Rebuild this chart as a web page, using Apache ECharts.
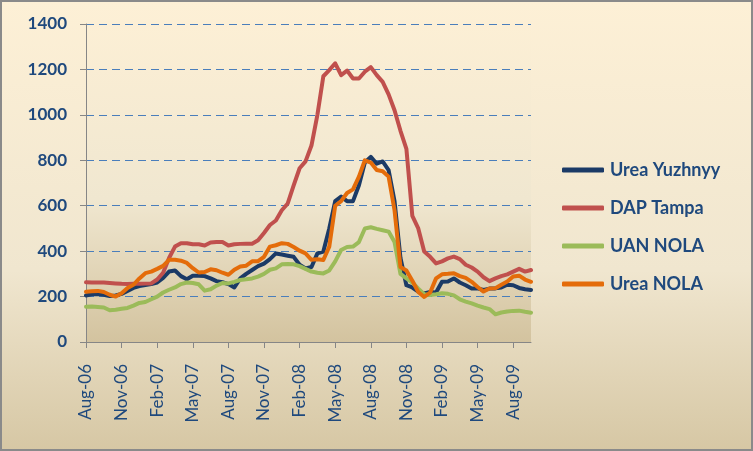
<!DOCTYPE html>
<html>
<head>
<meta charset="utf-8">
<script src="https://cdn.jsdelivr.net/npm/echarts@6/dist/echarts.min.js"></script>
<style>
  html, body { margin: 0; padding: 0; }
  #wrap { position: relative; width: 753px; height: 451px; }
  #chart { position: absolute; left: 0; top: 0; width: 753px; height: 451px;
    background: linear-gradient(to bottom, #FDF0D6 0%, #F0E6CF 60%, #D6C7A4 100%); }
  #frame { position: absolute; left: 0; top: 0; width: 753px; height: 451px; box-sizing: border-box;
    border: 2px solid #8A8A8A; pointer-events: none; }
</style>
</head>
<body>
<div id="wrap"><div id="chart"></div><div id="frame"></div></div>
<script>
// Month labels (each month split into two half-month periods)
const monthLabels = ['Aug-06','Sep-06','Oct-06','Nov-06','Dec-06','Jan-07','Feb-07','Mar-07','Apr-07','May-07','Jun-07','Jul-07',
  'Aug-07','Sep-07','Oct-07','Nov-07','Dec-07','Jan-08','Feb-08','Mar-08','Apr-08','May-08','Jun-08','Jul-08',
  'Aug-08','Sep-08','Oct-08','Nov-08','Dec-08','Jan-09','Feb-09','Mar-09','Apr-09','May-09','Jun-09','Jul-09',
  'Aug-09','Sep-09'];
const periods = [];
monthLabels.forEach(m => { periods.push(m + '|a'); periods.push(m + '|b'); });

const ureaYuzhnyy = [205,210,211,208,202,205,212,225,238,246,251,255,262,282,310,315,290,276,292,292,
  290,280,268,263,255,240,280,300,317,334,345,365,390,385,380,375,340,324,330,390,
  398,500,620,640,620,620,690,790,815,785,795,757,620,370,250,240,222,214,220,218,
  265,266,280,262,250,236,236,229,235,236,240,252,250,238,232,229];
const dapTampa = [263,262,262,262,260,258,256,255,256,256,257,258,275,305,370,420,435,435,430,430,
  425,438,440,440,425,430,432,433,433,448,480,515,535,580,610,690,765,795,865,1000,
  1170,1197,1227,1175,1195,1160,1160,1190,1210,1175,1145,1090,1020,930,850,555,500,398,375,346,
  355,368,376,365,340,328,310,285,268,280,290,298,310,322,310,317];
const uanNola = [155,156,154,152,140,142,146,150,160,172,176,188,200,218,230,240,255,262,260,254,
  226,232,248,260,258,265,273,276,280,288,300,318,324,342,343,342,334,322,310,305,
  302,315,355,405,418,420,440,500,505,498,492,486,440,300,280,262,235,210,207,210,
  215,212,205,188,178,170,160,152,145,122,130,134,137,138,133,129];
const ureaNola = [221,223,225,220,208,200,215,238,252,280,303,310,322,335,362,362,358,348,325,306,
  308,320,316,305,296,318,332,336,355,356,375,420,426,435,432,418,402,390,362,364,
  361,420,600,620,656,672,728,800,790,757,752,728,580,330,315,270,220,198,218,280,
  298,300,303,290,282,265,242,222,236,237,252,266,288,292,275,265];
const yTicks = { min: 0, max: 1400, interval: 200 };

const seriesDefs = [
  { name: 'Urea Yuzhnyy', data: ureaYuzhnyy, color: '#1B3A66' },
  { name: 'DAP Tampa', data: dapTampa, color: '#C0504D' },
  { name: 'UAN NOLA', data: uanNola, color: '#9BBB59' },
  { name: 'Urea NOLA', data: ureaNola, color: '#E46C0A' }
];

const chart = echarts.init(document.getElementById('chart'), null, { renderer: 'canvas' });
const every3 = (idx) => idx % 6 === 0;
chart.setOption({
  animation: false,
  backgroundColor: 'transparent',
  grid: {
    left: 86, top: 24, right: 222, bottom: 109,
    show: true, borderWidth: 0,
    backgroundColor: new echarts.graphic.LinearGradient(0, 0, 0, 1, [
      { offset: 0, color: '#FCEFD5' },
      { offset: 0.55, color: '#F0E7D0' },
      { offset: 1, color: '#D3C39F' }
    ])
  },
  legend: {
    orient: 'vertical',
    left: 562, top: 161, padding: 0,
    itemWidth: 42, itemHeight: 5, itemGap: 20,
    textStyle: { color: '#1F497D', fontFamily: 'Lato', fontWeight: 'bold', fontSize: 18, padding: [0, 0, 0, 1] },
    data: seriesDefs.map(s => ({ name: s.name, icon: 'roundRect', itemStyle: { color: s.color } }))
  },
  xAxis: {
    type: 'category',
    data: periods,
    boundaryGap: false,
    axisLine: { show: true, lineStyle: { color: '#868686', width: 1 } },
    axisTick: { show: true, interval: every3, length: 6, lineStyle: { color: '#868686' } },
    axisLabel: {
      interval: every3, rotate: 90, margin: 22,
      color: '#1F497D', fontFamily: 'Lato', fontSize: 17,
      formatter: v => v.split('|')[0]
    },
    splitLine: { show: false }
  },
  yAxis: {
    type: 'value', min: yTicks.min, max: yTicks.max, interval: yTicks.interval,
    axisLine: { show: true, lineStyle: { color: '#868686', width: 1 } },
    axisTick: { show: true, length: 6, lineStyle: { color: '#868686' } },
    axisLabel: { color: '#1F497D', fontFamily: 'Lato', fontWeight: 'bold', fontSize: 17, margin: 19,
      formatter: v => String(v) },
    splitLine: { show: true, lineStyle: { color: '#4A7EBB', width: 1, type: [8, 5] } }
  },
  series: seriesDefs.map(s => ({
    name: s.name, type: 'line', data: s.data, symbol: 'none', smooth: false,
    lineStyle: { color: s.color, width: 4, join: 'round', cap: 'round' },
    itemStyle: { color: s.color }
  }))
});
</script>
</body>
</html>
